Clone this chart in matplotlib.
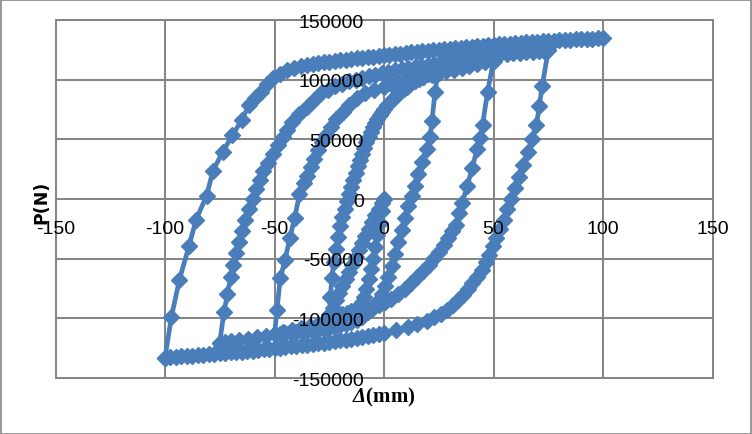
import numpy as np
import matplotlib
matplotlib.use("Agg")
import matplotlib.pyplot as plt
from matplotlib.patches import Rectangle

# ---------------- data (displacement in mm, load in N) ----------------
# branch 1: initial loading 0 -> -25
d1 = [0, -1, -2, -3, -4, -5, -6, -7, -8, -9, -10, -11.5, -13, -15, -17, -19, -21, -23, -25]
p1 = [0, -10000, -20000, -30000, -40000, -50000, -59000, -67000, -75000, -82000, -86000,
      -89500, -92000, -94000, -95500, -96500, -97000, -97300, -97500]
# branch 2: -25 -> 0
d2 = [-25, -23.5, -22, -20.5, -19, -17.5, -16, -14.5, -13, -11.5, -10, -8.5, -7, -5.5, -4, -2.5, -1, 0]
p2 = [-97500, -91000, -85000, -79000, -73000, -67000, -61000, -55000, -49000, -43000, -37000,
      -31000, -25000, -19000, -13500, -8000, -3000, 0]
# branch 3: -25 -> +25
d3 = [-25, -24.5, -23.8, -23, -22, -21, -20, -19, -18, -17, -16, -15, -14, -13, -12, -11, -10,
      -9, -8, -7, -6, -5, -4, -3, -2, -1, 0, 1.5, 3, 4.5, 6, 7.5, 9, 10.5, 12, 14, 16, 18, 20,
      22.5, 25]
p3 = [-97500, -82000, -66000, -53000, -42000, -32000, -23000, -15000, -8000, -2000, 4000, 10000,
      16000, 22000, 27500, 33000, 38000, 43000, 47500, 52000, 56000, 60000, 63500, 67000, 70000,
      73000, 75500, 79000, 82000, 85000, 87500, 90000, 92000, 94000, 96000, 98500, 100500,
      102500, 104500, 107000, 110000]
# branch 4: +25 -> -50
d4 = [25, 23.3, 21.9, 21.0, 19.5, 17.4, 15.5, 14.2, 12.8, 11.0, 9.5, 8, 6.5, 5, 3.5, 2, 0.5, -1,
      -3, -5, -7.5, -10, -12.5, -15, -17.5, -20, -22.5, -25, -27.5, -30, -32.5, -35, -37.5, -40,
      -42.5, -45, -47.5, -50]
p4 = [110000, 89700, 65400, 52000, 42000, 31000, 21000, 11000, 2500, -6000, -16000, -26000,
      -36000, -46000, -56000, -65000, -73000, -80000, -86000, -91000, -95000, -98500, -101000,
      -103000, -104500, -106000, -107000, -108000, -108800, -109500, -110200, -110800, -111300,
      -111800, -112300, -112700, -113000, -113300]
# branch 5: -50 -> +50
d5 = [-50, -48.9, -47.4, -45.2, -43, -40.8, -38.6, -36.5, -35.3, -33.5, -32, -30, -28.3, -26.5,
      -24.4, -22, -18.9, -16, -12.3, -8.5, -4.6, 0, 3, 6.4, 10, 14, 18, 21.7, 25, 28.5, 32, 35.5,
      39, 42.5, 46, 50]
p5 = [-113300, -93400, -66600, -51100, -32700, -15800, 4000, 13000, 19500, 27000, 33600, 41000,
      47700, 54000, 60400, 67000, 73100, 79000, 84400, 88500, 91400, 94000, 96000, 97500, 99500,
      101000, 102500, 104000, 105500, 107000, 108500, 110000, 111500, 113000, 114500, 116000]
# branch 6: +50 -> -75
d6 = [50, 47.3, 45, 43.8, 42.5, 40.3, 38, 35.8, 34.2, 32.7, 31, 29.4, 27.2, 25, 22.8, 20.6, 17.9,
      15.1, 12.4, 9.7, 6.4, 3.1, 0.3, -2.4, -6.8, -11.2, -16.5, -22, -26, -30, -34, -38, -42,
      -46, -50, -54, -58, -62, -66, -70, -72.5, -75]
p6 = [116000, 90000, 62000, 51000, 42000, 26000, 11000, -3000, -12000, -21500, -27000, -32700,
      -38500, -44000, -49500, -55300, -60500, -65200, -70000, -75100, -79500, -83500, -86500,
      -89200, -92000, -94800, -97800, -100500, -102500, -104500, -106500, -108300, -110000,
      -111500, -113000, -114500, -116000, -117200, -118300, -119300, -119800, -120300]
# branch 7: -75 -> +75
d7 = [-75, -73.1, -71.5, -70, -68.9, -67.8, -66.4, -65, -63.4, -61.7, -60, -58.4, -56.8, -55.1,
      -53, -50.7, -48.5, -46.3, -44.1, -41.9, -38.6, -35.3, -32, -28.7, -25.5, -22.2,
      -19, -16, -13, -10, -7, -4, -1, 2, 5, 8, 11, 14, 17, 20, 23, 26, 29, 32, 35, 38, 41, 44,
      47, 50, 53, 56, 59, 62, 65, 68, 71, 73, 75]
p7 = [-120300, -94800, -80000, -65200, -55000, -45400, -36000, -27100, -18000, -8700, 0, 8200,
      16000, 23700, 30500, 37800, 45000, 51900, 58000, 64600, 71000, 77300, 83000, 88600, 91500,
      94300, 96500, 98500, 100000, 101500, 103000, 104300, 105500, 106700, 107800, 108800,
      109800, 110800, 111700, 112600, 113500, 114400, 115300, 116100, 116900, 117700, 118500,
      119200, 119900, 120500, 121100, 121700, 122200, 122700, 123200, 123600, 124000, 124300,
      124600]
# branch 8: +75 -> -100
d8 = [75, 72.2, 70.9, 69.6, 67.6, 65.6, 63.6, 61.7, 59.8, 57.9, 56.2, 54.6, 53, 51.3, 49.7, 48.1,
      46.5, 44.8, 42.6, 40.4, 38.2, 36, 33.8, 31.6, 28.9, 26.1, 22.8, 19.5, 15, 10.8, 5.5,
      0, -2.5, -5, -7.5, -10, -12.5, -15, -17.5, -20, -22.5, -25, -27.5, -30, -32.5, -35, -37.5,
      -40, -42.5, -45, -47.5, -50, -52.5, -55, -57.5, -60, -62.5, -65, -67.5, -70, -72.5, -75,
      -77.5, -80, -82.5, -85, -87.5, -90, -92.5, -95, -97.5, -100]
p8 = [124600, 94300, 78000, 61800, 50500, 39200, 28600, 18100, 8900, -300, -8700, -17200, -25000,
      -32700, -39800, -46900, -53200, -59600, -65200, -70800, -75800, -80700, -85000, -89200,
      -92700, -96200, -99000, -101900, -104700, -107500, -109700,
      -112000, -113000, -113800, -114700, -115500, -116300, -117000, -117800, -118500, -119200,
      -119800, -120400, -121000, -121500, -122000, -122500, -123000, -123500, -124000, -124500,
      -125000, -125500, -126000, -126500, -127000, -127400, -127800, -128200, -128500, -128900,
      -129300, -129700, -130000, -130400, -130800, -131200, -131500, -131900, -132300, -132600,
      -133000]
# branch 9: -100 -> +100
d9 = [-100, -97.1, -93.4, -89.1, -85.8, -81, -78.1, -73.7, -69.3, -65, -61.7, -58.9, -56.2, -53.5,
      -50.7, -47.4, -44.1, -41, -38, -35.3, -32.5, -30, -27.5, -25, -22.5, -20, -17.5, -15,
      -12.5, -10, -7.5, -5, -2.5, 0, 2.5, 5, 7.5, 10, 12.5, 15, 17.5, 20, 22.5, 25, 27.5, 30,
      32.5, 35, 37.5, 40, 42.5, 45, 47.5, 50, 52.5, 55, 57.5, 60, 62.5, 65, 67.5, 70, 72.5, 75,
      77.5, 80, 82.5, 85, 87.5, 90, 92.5, 95, 97.5, 100]
p9 = [-133000, -99000, -67500, -39800, -17200, 2800, 23700, 39200, 53300, 66000, 78700, 84500,
      90000, 96000, 101300, 105000, 108400, 110000, 111500, 112600, 113300, 114000, 114600,
      115200, 115800, 116300, 116800, 117300, 117800, 118300, 118800, 119300, 119800, 120300,
      120800, 121300, 121800, 122300, 122800, 123300, 123800, 124300, 124700, 125100, 125500,
      125900, 126300, 126700, 127100, 127500, 127900, 128300, 128700, 129100, 129500, 129900,
      130300, 130600, 130900, 131200, 131500, 131800, 132100, 132400, 132700, 133000, 133300,
      133500, 133700, 133900, 134100, 134300, 134500, 134700]

x_ticks = [-150, -100, -50, 0, 50, 100, 150]
y_ticks = [-150000, -100000, -50000, 0, 50000, 100000, 150000]
x_title = r"$\Delta$(mm)"
y_title = "P(N)"

# ---------------- figure ----------------
plt.rcParams["mathtext.fontset"] = "custom"
plt.rcParams["mathtext.rm"] = "Liberation Serif:italic:bold"
plt.rcParams["mathtext.it"] = "Liberation Serif:italic:bold"

W, H = 752, 435
fig = plt.figure(figsize=(W / 100, H / 100), dpi=100)
ax = fig.add_axes([55.5 / W, 1 - 379 / H, (712.5 - 55.5) / W, (379 - 21) / H])

grid_c = "#868686"
ax.set_xlim(-150, 150)
ax.set_ylim(-150000, 150000)
ax.set_xticks(x_ticks)
ax.set_yticks(y_ticks)
ax.tick_params(length=0, labelbottom=False, labelleft=False)
ax.grid(True, color=grid_c, linewidth=1.45)
ax.set_axisbelow(True)
for s in ax.spines.values():
    s.set_color(grid_c)
    s.set_linewidth(1.45)

d_all = np.concatenate([d1, d2, d3, d4, d5, d6, d7, d8, d9])
p_all = np.concatenate([p1, p2, p3, p4, p5, p6, p7, p8, p9])
blue = "#4A7EBB"
ax.plot(d_all, p_all, color=blue, linewidth=3.4, marker="D", markersize=8.2,
        markerfacecolor=blue, markeredgecolor=blue, zorder=3, clip_on=False)

tick_font = dict(family=["Liberation Sans"], size=14, color="black")
for v in x_ticks:
    ax.annotate(str(v), xy=(v, 0), xytext=(0, -21), textcoords="offset points",
                ha="center", va="center", zorder=6, annotation_clip=False, **tick_font)
for v in y_ticks:
    ax.annotate(str(v), xy=(0, v), xytext=(-14.4, -1.5), textcoords="offset points",
                ha="right", va="center", zorder=6, annotation_clip=False, **tick_font)

# axis titles
fig.text(384 / W, 1 - 397 / H, x_title, ha="center", va="center", family="Liberation Serif",
         weight="bold", size=15)
fig.text(41 / W, 1 - 202 / H, y_title, ha="center", va="center", rotation=90,
         family="DejaVu Sans", weight="bold", size=12.5)

# outer chart border
fig.patches.append(Rectangle((0.5 / W, 0.5 / H), 1 - 1.5 / W, 1 - 1.5 / H, transform=fig.transFigure,
                             fill=False, edgecolor=grid_c, linewidth=1.2))

fig.savefig("out.png", dpi=100, facecolor="white")
